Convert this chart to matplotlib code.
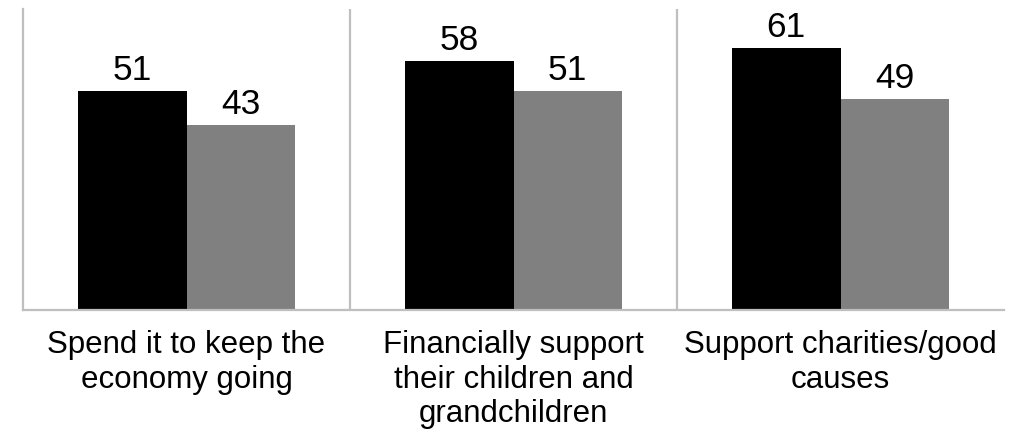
import matplotlib
matplotlib.use("Agg")
import matplotlib.pyplot as plt
import numpy as np

categories = ["Spend it to keep the\neconomy going",
              "Financially support\ntheir children and\ngrandchildren",
              "Support charities/good\ncauses"]
series_a = [51, 58, 61]
series_b = [43, 51, 49]

plt.rcParams['font.family'] = ['Liberation Sans', 'DejaVu Sans']

W, H = 1028, 435
fig = plt.figure(figsize=(W / 100, H / 100), dpi=100)
ax = fig.add_axes([23 / W, (H - 310.5) / H, (1004 - 23) / W, 300.5 / H])

x = np.arange(len(categories))
bw = 0.332
bars_a = ax.bar(x - bw / 2, series_a, bw, color="#000000", zorder=2)
bars_b = ax.bar(x + bw / 2, series_b, bw, color="#808080", zorder=2)

for bars, vals in ((bars_a, series_a), (bars_b, series_b)):
    for b, v in zip(bars, vals):
        ax.annotate(f"{v}", (b.get_x() + b.get_width() / 2, v),
                    xytext=(0, 3.5), textcoords="offset points",
                    ha="center", va="bottom", fontsize=25.5, color="#000000")

ax.set_xlim(-0.5, len(categories) - 0.5)
ax.set_ylim(0, 70)
for xv in x[:-1] + 0.5:
    ax.axvline(xv, color="#bfbfbf", lw=1.6, zorder=1)

for s in ("top", "right"):
    ax.spines[s].set_visible(False)
for s in ("left", "bottom"):
    ax.spines[s].set_color("#bfbfbf")
    ax.spines[s].set_linewidth(1.6)

ax.set_yticks([])
ax.set_xticks(x)
ax.set_xticklabels(categories, fontsize=22.5, linespacing=1.2)
ax.tick_params(axis="x", length=0, pad=14)

fig.savefig("out.png", dpi=100)
